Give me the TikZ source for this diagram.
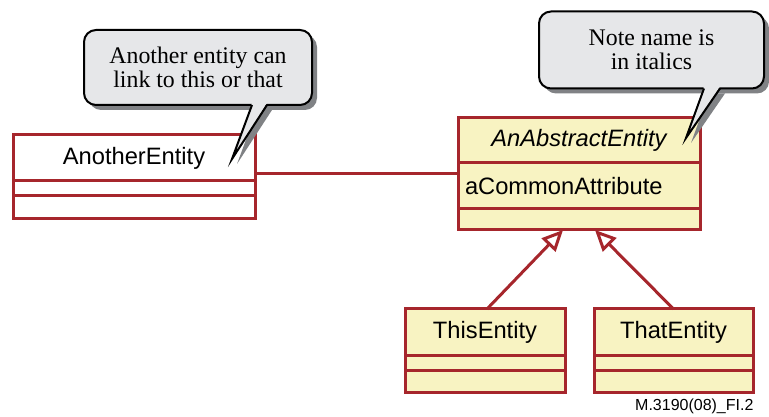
\documentclass[tikz,border=0pt]{standalone}
\usepackage{fontspec}
\setmainfont{Liberation Serif}
\setsansfont{Liberation Sans}
\usetikzlibrary{positioning,arrows.meta,shadows}
\definecolor{umlred}{RGB}{166,38,44}
\definecolor{umlyellow}{RGB}{248,243,194}
\definecolor{notegray}{RGB}{230,231,233}
\definecolor{shadowgray}{RGB}{128,130,133}

\begin{document}
\begin{tikzpicture}[%
        x = 1pt, y = 1pt,
        classbox/.style = {draw=umlred, line width=3pt, outer sep=0pt, inner sep=0pt,
            font=\fontsize{23.7}{28}\selectfont\sffamily},
        isa/.style = {draw=umlred, line width=3pt,
            -{Triangle[fill=white, length=21pt, width=19pt]}},
        notebox/.style = {draw, line width=2pt, fill=notegray, rounded corners=12pt,
            inner sep=0pt, align=center, font=\fontsize{23.8}{24}\selectfont,
            drop shadow={shadow xshift=5pt, shadow yshift=-5pt, fill=shadowgray, opacity=1}}
    ]
      \useasboundingbox (0,0) rectangle (769,417);
      % classes
      \node[classbox, minimum width=242, minimum height=46] (another) at (134,259) {AnotherEntity};
      \node[classbox, minimum width=242, minimum height=15, below=0pt of another] (another-a) {};
      \node[classbox, minimum width=242, minimum height=23, below=0pt of another-a] (another-o) {};
      \node[classbox, fill=umlyellow, minimum width=242, minimum height=45] (abstract) at (579,276.5) {\itshape AnAbstractEntity};
      \node[classbox, fill=umlyellow, minimum width=242, minimum height=46, text width=228, inner xsep=7pt,
          align=left, below=0pt of abstract] (abstract-a) {aCommonAttribute};
      \node[classbox, fill=umlyellow, minimum width=242, minimum height=21, below=0pt of abstract-a] (abstract-o) {};
      \node[classbox, fill=umlyellow, minimum width=160, minimum height=47] (this) at (485,84.5) {ThisEntity};
      \node[classbox, fill=umlyellow, minimum width=160, minimum height=15, below=0pt of this] (this-a) {};
      \node[classbox, fill=umlyellow, minimum width=160, minimum height=22, below=0pt of this-a] (this-o) {};
      \node[classbox, fill=umlyellow, minimum width=159, minimum height=47] (that) at (673.5,84.5) {ThatEntity};
      \node[classbox, fill=umlyellow, minimum width=159, minimum height=15, below=0pt of that] (that-a) {};
      \node[classbox, fill=umlyellow, minimum width=159, minimum height=22, below=0pt of that-a] (that-o) {};
      % links
      \coordinate (link) at ([yshift=-15.5pt]another.east);
      \draw[umlred, line width=3pt] (link) -- (link -| abstract-a.west);
      \draw[isa] ([xshift=2pt]this.north) -- ([xshift=-16pt]abstract-o.south);
      \draw[isa] (that.north) -- ([xshift=16pt]abstract-o.south);
      % notes
      \coordinate (tip-a) at (232,258);
      \coordinate (base-a1) at (252,312);
      \coordinate (base-a2) at (267,312);
      \fill[shadowgray] ([shift={(5,-5)}]base-a1) -- ([shift={(5,-5)}]tip-a) -- ([shift={(5,-5)}]base-a2) -- cycle;
      \node[notebox, minimum width=228, minimum height=75] (note-a) at (198,349.5) {Another entity can\\link to this or that};
      \fill[notegray] ([yshift=2pt]base-a1) -- (tip-a) -- ([yshift=2pt]base-a2) -- cycle;
      \draw[line width=2pt] (base-a1) -- (tip-a) -- (base-a2);
      \coordinate (tip-b) at (686,279);
      \coordinate (base-b1) at (704,328.5);
      \coordinate (base-b2) at (720,328.5);
      \fill[shadowgray] ([shift={(5,-5)}]base-b1) -- ([shift={(5,-5)}]tip-b) -- ([shift={(5,-5)}]base-b2) -- cycle;
      \node[notebox, minimum width=225, minimum height=77] (note-b) at (651.5,367) {Note name is\\in italics};
      \fill[notegray] ([yshift=2pt]base-b1) -- (tip-b) -- ([yshift=2pt]base-b2) -- cycle;
      \draw[line width=2pt] (base-b1) -- (tip-b) -- (base-b2);
      \node[anchor=base east, font=\fontsize{16}{18}\selectfont\sffamily] (fig-id) at (757,6) {M.3190(08)\_FI.2};
    \end{tikzpicture}
\end{document}
